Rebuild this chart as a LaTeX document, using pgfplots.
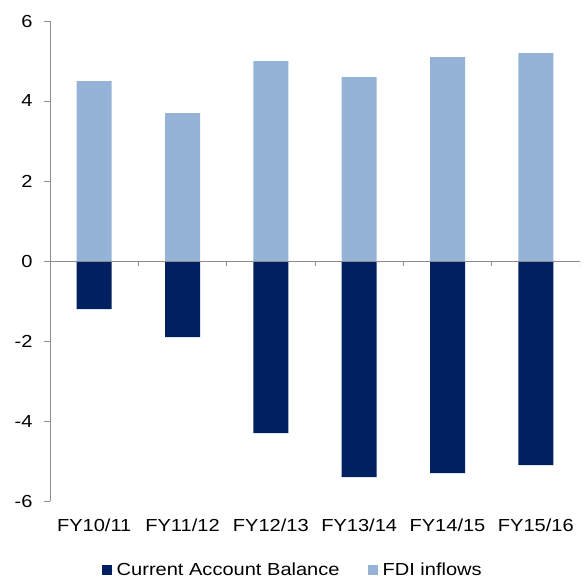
\documentclass[border=0pt]{standalone}
\usepackage{pgfplots}
\pgfplotsset{compat=1.18}
\usetikzlibrary{calc}
\usepackage{fontspec}
\setmainfont{Liberation Sans}[FakeStretch=1.15]

\definecolor{cabal}{HTML}{002060}
\definecolor{fdi}{HTML}{95B3D7}
\definecolor{axisgray}{HTML}{8C8C8C}

\begin{document}
\begin{tikzpicture}
\begin{axis}[
  name=main,
  scale only axis,
  width=530bp, height=480bp,
  xmin=-0.5, xmax=5.5,
  ymin=-6, ymax=6,
  ytick={-6,-4,...,6},
  xtick={0,...,5},
  xticklabels={FY10/11,FY11/12,FY12/13,FY13/14,FY14/15,FY15/16},
  axis x line*=bottom,
  axis y line*=left,
  x axis line style={draw=none},
  y axis line style={axisgray, line width=0.8pt},
  xtick style={draw=none},
  ytick style={axisgray, line width=0.8pt},
  tick align=outside,
  major tick length=6bp,
  /pgf/number format/assume math mode=true,
  tick label style={font=\fontsize{17.5}{20}\selectfont, black},
  yticklabel style={xshift=-8bp},
  xticklabel style={yshift=-8bp},
  ybar, bar width=35bp,
  legend style={at={(0.458,-0.144)}, anchor=center, draw=none,
    legend columns=2, font=\fontsize{17.5}{20}\selectfont,
    /tikz/every even column/.append style={column sep=26bp}},
  legend cell align=left,
  legend image code/.code={%
    \fill[#1] (0bp,-5bp) rectangle (10bp,5bp);
    \path (0bp,0bp) -- (13bp,0bp);},
]
\addplot[fill=cabal, draw=none, bar shift=0bp] coordinates {
  (0,-1.2) (1,-1.9) (2,-4.3) (3,-5.4) (4,-5.3) (5,-5.1)};
\addlegendentry{Current Account Balance}
\addplot[fill=fdi, draw=none, bar shift=0bp] coordinates {
  (0,4.5) (1,3.7) (2,5.0) (3,4.6) (4,5.1) (5,5.2)};
\addlegendentry{FDI inflows}
% zero line with category separators
\draw[axisgray, line width=0.8pt] (axis cs:-0.5,0) -- (axis cs:5.5,0);
\pgfplotsinvokeforeach{0.5,1.5,2.5,3.5,4.5,5.5}{
  \draw[axisgray, line width=0.8pt] (axis cs:#1,0) -- ++(0pt,-5pt);
}
\end{axis}
\pgfresetboundingbox
\path ($(main.south west)+(-50bp,-81bp)$) rectangle ($(main.north east)+(6bp,21bp)$);
\end{tikzpicture}
\end{document}
